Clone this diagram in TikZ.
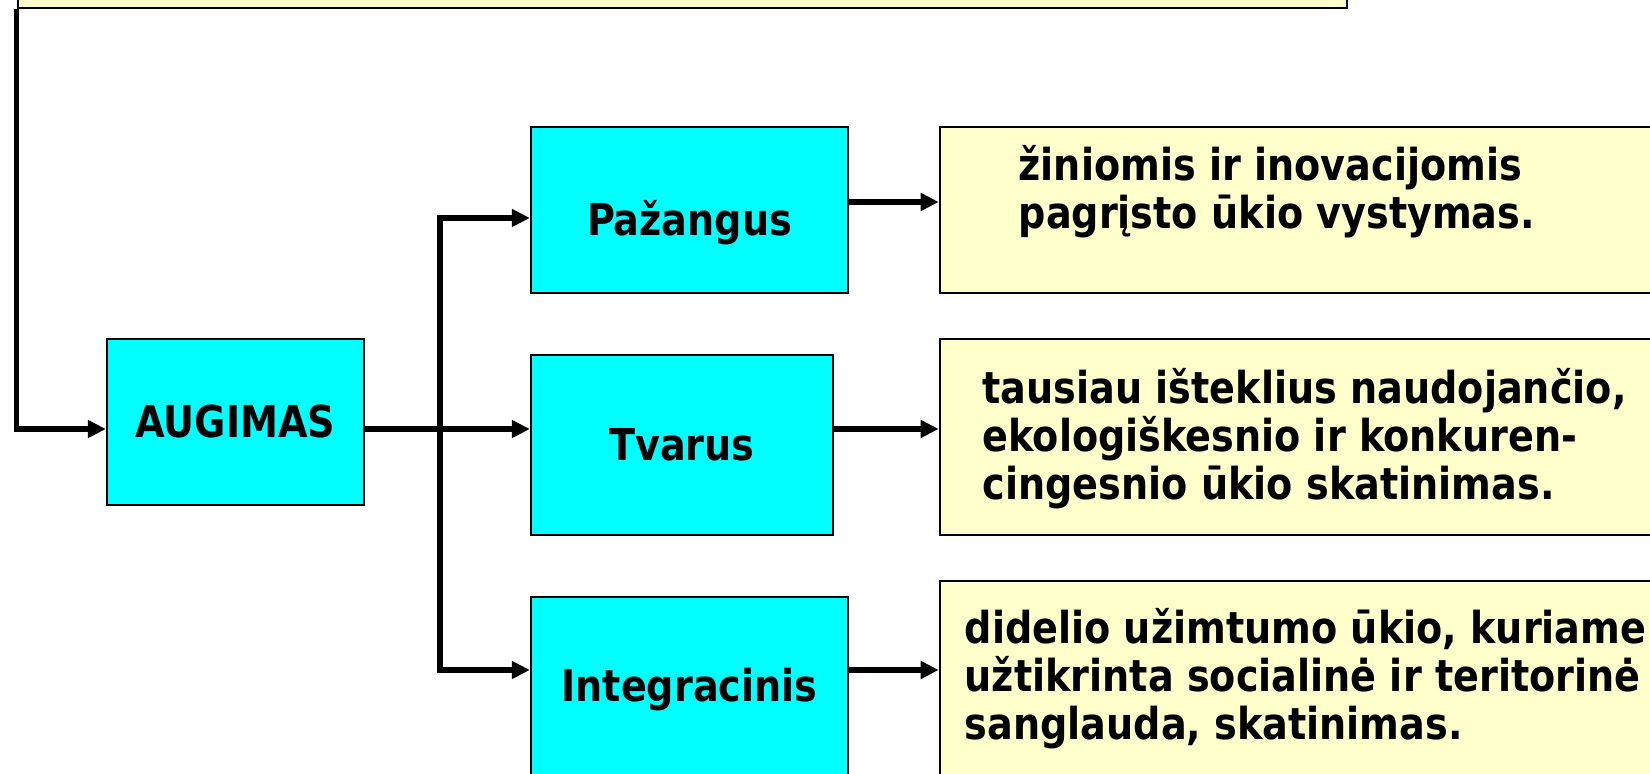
\documentclass[tikz,border=0pt]{standalone}
\usepackage{fontspec}
\usepackage{tikz}
\usetikzlibrary{arrows.meta}
\newfontfamily\diagfont{DejaVu Sans Condensed Bold}[FakeStretch=0.965]
\definecolor{boxcyan}{HTML}{00FFFF}
\definecolor{boxyellow}{HTML}{FFFFCC}

\tikzset{
    cyanbox/.style={draw=black, fill=boxcyan, line width=0.6pt, inner sep=0pt},
    yellowbox/.style={draw=black, fill=boxyellow, line width=0.6pt, inner sep=0pt},
    boxfont/.style={font=\diagfont\fontsize{12.5}{13.7}\selectfont},
    boxtext/.style={boxfont, inner sep=0pt, align=left},
    line/.style={line width=1.45pt},
    arr/.style={line width=1.45pt, -{Triangle[length=0.18cm,width=0.17cm]}}
}

\begin{document}
\begin{tikzpicture}[x=0.01cm, y=-0.01cm]
    \useasboundingbox (0,0) rectangle (1650,774);
    \clip (0,0) rectangle (1650,774);

    % top box (cut off)
    \node[yellowbox, minimum width=13.29cm, minimum height=0.68cm] (top) at (682.5,-26) {};

    % AUGIMAS
    \node[cyanbox, minimum width=2.57cm, minimum height=1.66cm, boxfont] (aug) at (235.5,422) {AUGIMAS};

    % middle column
    \node[cyanbox, minimum width=3.17cm, minimum height=1.66cm, boxfont, text height=14.5pt, text depth=0pt] (paz) at (689.5,210) {Pažangus};
    \node[cyanbox, minimum width=3.02cm, minimum height=1.80cm, boxfont] (tva) at (682,445) {Tvarus};
    \node[cyanbox, minimum width=3.17cm, minimum height=1.86cm, boxfont] (int) at (689.5,690) {Integracinis};

    % right column
    \node[yellowbox, minimum width=8cm, minimum height=1.66cm] (r1) at (1340,210) {};
    \node[yellowbox, minimum width=8cm, minimum height=1.96cm] (r2) at (1340,437) {};
    \node[yellowbox, minimum width=8cm, minimum height=1.96cm] (r3) at (1340,679) {};

    \node[boxtext, anchor=west] (r1txt) at (1018,192) {žiniomis ir inovacijomis\\pagrįsto ūkio vystymas.};
    \node[boxtext, anchor=west] (r2txt) at (982,439) {tausiau išteklius naudojančio,\\ekologiškesnio ir konkuren-\\cingesnio ūkio skatinimas.};
    \node[boxtext, anchor=west] (r3txt) at (964,679) {didelio užimtumo ūkio, kuriame\\užtikrinta socialinė ir teritorinė\\sanglauda, skatinimas.};

    % connectors
    \coordinate (split) at (440,429);
    \coordinate (trunktop) at (440,218);
    \coordinate (trunkbot) at (440,670);
    \coordinate (upper) at (0,202);

    \draw[arr] (top.south west) |- (aug.west |- split);
    \draw[line] (aug.east |- split) -- (split);
    \draw[arr] (split) -- (tva.west |- split);
    \draw[arr] (split) -- (trunktop) -- (paz.west |- trunktop);
    \draw[arr] (split) -- (trunkbot) -- (int.west |- trunkbot);

    \draw[arr] (paz.east |- upper) -- (r1.west |- upper);
    \draw[arr] (tva.east |- split) -- (r2.west |- split);
    \draw[arr] (int.east |- trunkbot) -- (r3.west |- trunkbot);
\end{tikzpicture}
\end{document}
